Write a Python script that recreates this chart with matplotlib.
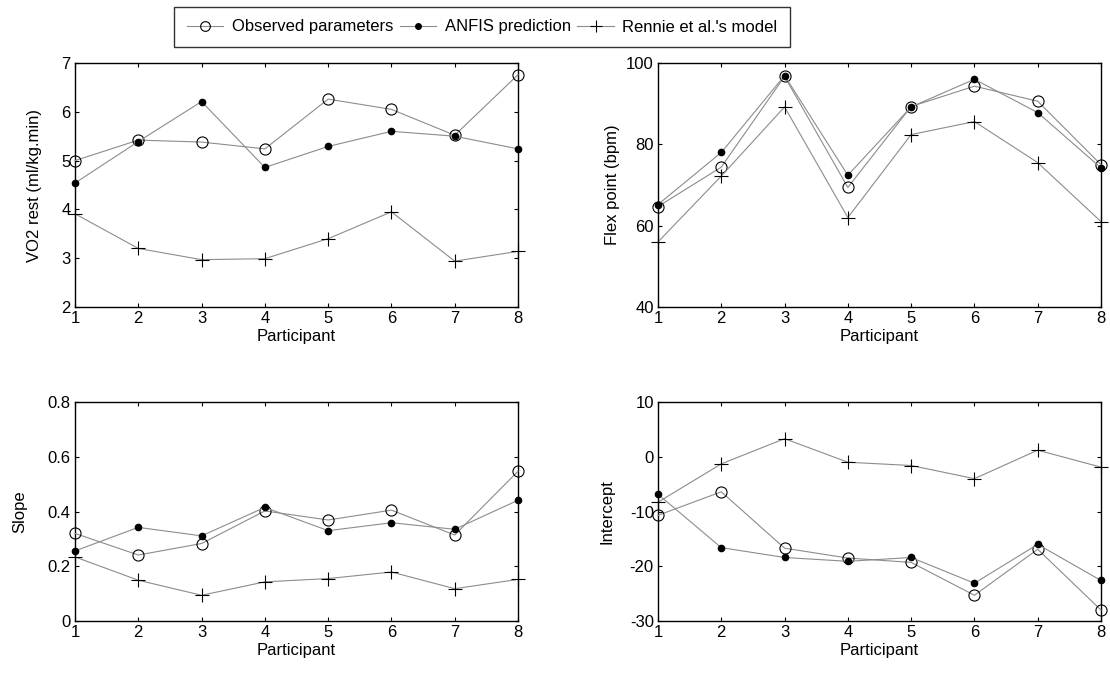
import matplotlib
matplotlib.use("Agg")
import matplotlib.pyplot as plt
from matplotlib.lines import Line2D

plt.rcParams['font.family'] = ['Liberation Sans', 'DejaVu Sans']

participants = [1, 2, 3, 4, 5, 6, 7, 8]

# VO2 rest (ml/kg.min)
vo2_observed = [5.00, 5.42, 5.38, 5.24, 6.26, 6.05, 5.52, 6.76]
vo2_anfis = [4.54, 5.39, 6.21, 4.86, 5.29, 5.60, 5.50, 5.24]
vo2_rennie = [3.91, 3.20, 2.97, 2.99, 3.40, 3.95, 2.94, 3.14]

# Flex point (bpm)
flex_observed = [64.7, 74.4, 96.7, 69.4, 89.3, 94.3, 90.6, 75.0]
flex_anfis = [65.2, 78.0, 96.9, 72.4, 89.2, 96.0, 87.8, 74.2]
flex_rennie = [56.0, 72.2, 89.2, 62.0, 82.4, 85.6, 75.5, 61.0]

# Slope
slope_observed = [0.320, 0.241, 0.283, 0.402, 0.369, 0.405, 0.314, 0.547]
slope_anfis = [0.256, 0.342, 0.311, 0.415, 0.330, 0.359, 0.335, 0.441]
slope_rennie = [0.234, 0.149, 0.094, 0.143, 0.155, 0.179, 0.118, 0.152]

# Intercept
icpt_observed = [-10.7, -6.4, -16.7, -18.5, -19.3, -25.3, -16.9, -28.0]
icpt_anfis = [-6.85, -16.6, -18.4, -19.1, -18.4, -23.1, -16.0, -22.6]
icpt_rennie = [-8.3, -1.3, 3.3, -1.0, -1.6, -4.0, 1.2, -1.9]

series_labels = ["Observed parameters", "ANFIS prediction", "Rennie et al.'s model"]

panels = [
    dict(obs=vo2_observed, anf=vo2_anfis, ren=vo2_rennie, ylim=(2, 7),
         yticks=[2, 3, 4, 5, 6, 7], yticklabels=["2", "3", "4", "5", "6", "7"],
         ylabel="VO2 rest (ml/kg.min)",
         rect=(75, 63, 518, 307), ylabel_x=35),
    dict(obs=flex_observed, anf=flex_anfis, ren=flex_rennie, ylim=(40, 100),
         yticks=[40, 60, 80, 100], yticklabels=["40", "60", "80", "100"],
         ylabel="Flex point (bpm)",
         rect=(658, 63, 1101, 307), ylabel_x=612),
    dict(obs=slope_observed, anf=slope_anfis, ren=slope_rennie, ylim=(0, 0.8),
         yticks=[0, 0.2, 0.4, 0.6, 0.8], yticklabels=["0", "0.2", "0.4", "0.6", "0.8"],
         ylabel="Slope",
         rect=(75, 402, 518, 621), ylabel_x=20),
    dict(obs=icpt_observed, anf=icpt_anfis, ren=icpt_rennie, ylim=(-30, 10),
         yticks=[-30, -20, -10, 0, 10], yticklabels=["-30", "-20", "-10", "0", "10"],
         ylabel="Intercept",
         rect=(658, 402, 1101, 621), ylabel_x=607),
]

W, H = 1110, 682
fig = plt.figure(figsize=(W / 100, H / 100), dpi=100)

line_color = "#8c8c8c"
lw = 0.8
fs = 12

for p in panels:
    x0, y0, x1, y1 = p["rect"]
    ax = fig.add_axes([x0 / W, 1 - y1 / H, (x1 - x0) / W, (y1 - y0) / H])
    ax.plot(participants, p["obs"], color=line_color, lw=lw, marker="o",
            markersize=8, markerfacecolor="none", markeredgecolor="black",
            markeredgewidth=0.8, clip_on=False, zorder=3)
    ax.plot(participants, p["anf"], color=line_color, lw=lw, marker="o",
            markersize=4.5, markerfacecolor="black", markeredgecolor="black",
            clip_on=False, zorder=4)
    ax.plot(participants, p["ren"], color=line_color, lw=lw, marker="+",
            markersize=10, markeredgecolor="black", markeredgewidth=0.8,
            clip_on=False, zorder=3)
    ax.set_xlim(1, 8)
    ax.set_ylim(*p["ylim"])
    ax.set_xticks(participants)
    ax.set_yticks(p["yticks"])
    ax.set_yticklabels(p["yticklabels"])
    ax.tick_params(direction="in", length=3, width=0.8, top=True, right=True,
                   labelsize=fs, pad=3, colors="black")
    for s in ax.spines.values():
        s.set_linewidth(1.0)
        s.set_color("black")
    ax.set_xlabel("Participant", fontsize=fs, labelpad=2)
    fig.text(p["ylabel_x"] / W, 1 - ((y0 + y1) / 2) / H, p["ylabel"],
             rotation=90, ha="center", va="center", fontsize=fs)

handles = [
    Line2D([], [], color=line_color, lw=lw, marker="o", markersize=7,
           markerfacecolor="none", markeredgecolor="black", markeredgewidth=0.8),
    Line2D([], [], color=line_color, lw=lw, marker="o", markersize=4,
           markerfacecolor="black", markeredgecolor="black"),
    Line2D([], [], color=line_color, lw=lw, marker="+", markersize=8,
           markeredgecolor="black", markeredgewidth=0.8),
]
leg = fig.legend(handles, series_labels, loc="center", ncol=3,
                 bbox_to_anchor=(482 / W, 1 - 27 / H), frameon=True,
                 fancybox=False, edgecolor="black", fontsize=fs,
                 handlelength=2.2, handletextpad=0.5, columnspacing=0.4,
                 borderpad=0.75, borderaxespad=0)
leg.get_frame().set_linewidth(1.0)

fig.savefig("out.png", dpi=100, facecolor="white")
